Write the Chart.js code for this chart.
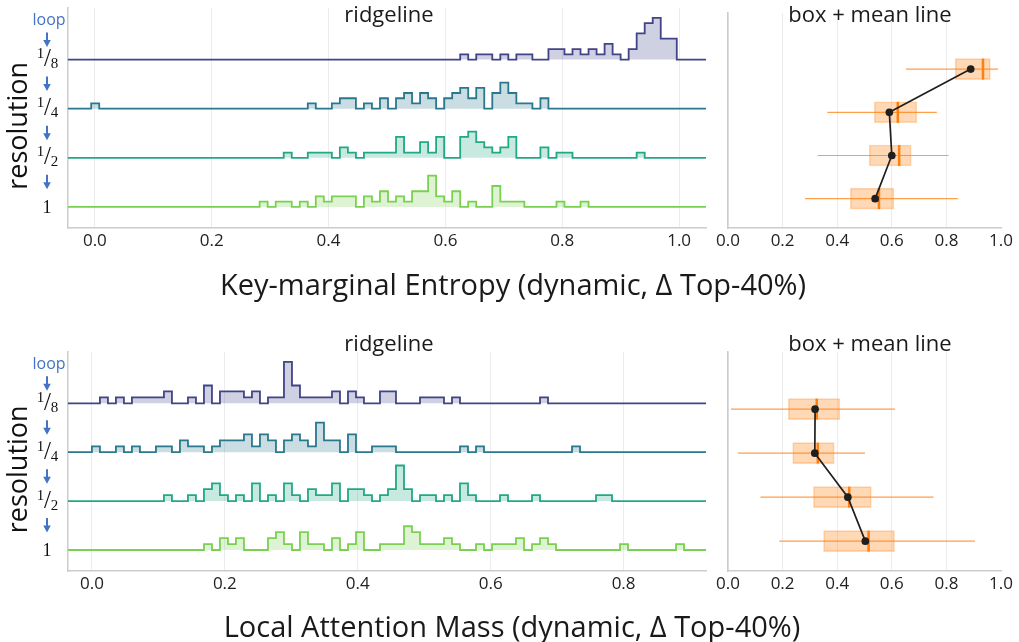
<!DOCTYPE html>
<html>
<head>
<meta charset="utf-8">
<title>Ridgeline + box, two metrics</title>
<script src="https://cdn.jsdelivr.net/npm/chart.js@4.4.1/dist/chart.umd.min.js"></script>
<style>
  html, body { margin: 0; padding: 0; background: #fff; }
  #fig { position: relative; width: 1019px; height: 642px; overflow: hidden;
         font-family: "Open Sans", sans-serif; color: #1a1a1a; }
  .panel { position: absolute; }
  .label { position: absolute; transform: translate(-50%, -50%); white-space: nowrap; line-height: 1; }
  .title { font-size: 22px; }
  .xtitle { font-size: 29px; }
</style>
</head>
<body>
<div id="fig">
  <div class="panel" style="left:0;top:0;width:712px;height:300px"><canvas id="ridgeTop"></canvas></div>
  <div class="panel" style="left:712px;top:0;width:307px;height:300px"><canvas id="boxTop"></canvas></div>
  <div class="panel" style="left:0;top:330px;width:712px;height:312px"><canvas id="ridgeBottom"></canvas></div>
  <div class="panel" style="left:712px;top:330px;width:307px;height:312px"><canvas id="boxBottom"></canvas></div>

  <div class="label title" style="left:389px;top:13px">ridgeline</div>
  <div class="label title" style="left:870px;top:13px">box + mean line</div>
  <div class="label xtitle" style="left:513px;top:283px">Key-marginal Entropy (dynamic, Δ Top-40%)</div>

  <div class="label title" style="left:389px;top:342px">ridgeline</div>
  <div class="label title" style="left:870px;top:342px">box + mean line</div>
  <div class="label xtitle" style="left:512px;top:625px">Local Attention Mass (dynamic, Δ Top-40%)</div>
</div>

<script>
// rows, top to bottom
const rowLabels = ['1/8', '1/4', '1/2', '1'];
const rowColors = ['#414487', '#2a788e', '#22a884', '#7ad151'];
const loopColor = '#4472c4';

// ---- Key-marginal entropy: histogram counts (73 bins) ----
const entropyBinStart = -0.0063;
const entropyBinWidth = 0.01373;
const entropyCounts8 = [
  0,0,0,0,0,0,0,0,0,0, 0,0,0,0,0,0,0,0,0,0, 0,0,0,0,0,0,0,0,0,0, 0,0,0,0,0,0,0,0,0,0,
  0,0,0,0,0,0,1,0,1,1, 0,1,0,1,1,0,0,2,2,1, 2,1,2,1,3,1,0,2,5,7, 8,4,4];
const entropyCounts4 = [
  1,0,0,0,0,0,0,0,0,0, 0,0,0,0,0,0,0,0,0,0, 0,0,0,0,0,0,0,1,0,0, 1,2,2,0,1,0,2,0,2,3,
  1,3,2,0,2,3,4,2,4,0, 3,5,3,1,1,0,2,0,0,0, 0,0,0,0,0,0,0,0,0,0, 0,0,0];
const entropyCounts2 = [
  0,0,0,0,0,0,0,0,0,0, 0,0,0,0,0,0,0,0,0,0, 0,0,0,0,1,0,0,1,1,1, 0,2,1,0,1,1,1,1,4,1,
  1,3,1,4,0,0,4,5,3,2, 1,2,4,0,0,0,2,0,1,1, 0,0,0,0,0,0,0,0,1,0, 0,0,0];
const entropyCounts1 = [
  0,0,0,0,0,0,0,0,0,0, 0,0,0,0,0,0,0,0,0,0, 0,1,0,1,1,0,1,0,2,1, 2,2,2,0,2,1,3,1,2,1,
  3,3,6,2,1,3,0,1,0,0, 4,1,1,1,0,0,0,0,1,0, 0,1,0,0,0,0,0,0,0,0, 0,0,0];
const entropyRange = [-0.046, 1.046];
const entropyTicks = [0.0, 0.2, 0.4, 0.6, 0.8, 1.0];

// box stats per row
const entropyWhiskerLo = [0.652, 0.364, 0.328, 0.282];
const entropyWhiskerHi = [0.989, 0.765, 0.808, 0.842];
const entropyQ1 = [0.832, 0.536, 0.517, 0.448];
const entropyQ3 = [0.961, 0.692, 0.671, 0.608];
const entropyMedian = [0.934, 0.622, 0.627, 0.553];
const entropyMean = [0.889, 0.591, 0.600, 0.539];

// ---- Local attention mass: histogram counts (74 bins) ----
const massBinStart = 0.0;
const massBinWidth = 0.01204;
const massCounts8 = [
  0,1,0,1,0,1,1,1,1,2, 0,0,1,0,3,0,2,2,2,1, 2,0,1,1,7,3,1,1,1,1, 2,0,2,1,0,0,2,2,0,0,
  0,1,1,1,0,1,0,0,0,0, 0,0,0,0,0,0,1,0,0,0, 0,0,0,0,0,0,0,0,0,0, 0,0,0,0];
const massCounts4 = [
  1,0,0,1,0,1,0,0,1,1, 0,2,1,1,0,1,2,2,2,3, 1,3,2,0,2,3,2,1,5,2, 2,0,3,0,0,1,1,1,0,0,
  0,0,0,0,0,0,1,0,1,0, 0,0,0,0,0,0,0,0,0,0, 1,0,0,0,0,0,0,0,0,0, 0,0,0,0];
const massCounts2 = [
  0,0,0,0,0,0,0,0,0,1, 0,0,1,0,2,3,1,0,1,0, 3,0,1,0,3,1,0,2,1,1, 3,0,2,2,1,0,1,2,6,2,
  0,1,1,0,1,0,3,1,0,0, 0,1,0,0,0,1,0,0,0,0, 0,0,0,1,1,0,0,0,0,0, 0,0,0,0];
const massCounts1 = [
  0,0,0,0,0,0,0,0,0,0, 0,0,0,0,1,0,2,1,2,0, 0,0,2,3,1,0,3,1,1,0, 2,0,1,3,0,0,1,1,1,4,
  3,1,1,1,2,1,0,0,1,0, 1,1,1,2,0,1,2,1,0,0, 0,0,0,0,0,0,1,0,0,0, 0,0,0,1];
const massRange = [-0.036, 0.924];
const massTicks = [0.0, 0.2, 0.4, 0.6, 0.8];

const massWhiskerLo = [0.011, 0.037, 0.119, 0.188];
const massWhiskerHi = [0.612, 0.502, 0.753, 0.905];
const massQ1 = [0.221, 0.237, 0.313, 0.350];
const massQ3 = [0.410, 0.389, 0.525, 0.610];
const massMedian = [0.325, 0.329, 0.444, 0.515];
const massMean = [0.319, 0.318, 0.439, 0.503];

const boxTicks = [0.0, 0.2, 0.4, 0.6, 0.8, 1.0];

// shared layout
const rowRange = [-1.05, 3.43];   // y in "row" units, reversed
const ridgePeak = 0.85;           // tallest bin height in row units
const tickFont = { family: 'Open Sans', size: 17 };
const gridColor = '#ececec';
const spineColor = '#cccccc';

function hexToRgba(hex, a) {
    const n = parseInt(hex.slice(1), 16);
    return 'rgba(' + (n >> 16) + ',' + ((n >> 8) & 255) + ',' + (n & 255) + ',' + a + ')';
}

// stepped outline of one histogram, sitting on its row baseline
function ridgeDataset(counts, row, binStart, binWidth, range, scale) {
    const pts = [{ x: range[0], y: row }];
    counts.forEach((c, k) => pts.push({ x: binStart + k * binWidth, y: row - c * scale }));
    pts.push({ x: binStart + counts.length * binWidth, y: row });
    pts.push({ x: range[1], y: row });
    return {
        type: 'line',
        data: pts,
        stepped: true,
        borderColor: rowColors[row],
        borderWidth: 1.8,
        backgroundColor: hexToRgba(rowColors[row], 0.25),
        fill: { value: row },
        pointRadius: 0
    };
}

function drawArrow(ctx, cx, cy) {
    ctx.strokeStyle = loopColor;
    ctx.fillStyle = loopColor;
    ctx.lineWidth = 2;
    ctx.beginPath();
    ctx.moveTo(cx, cy - 7.5);
    ctx.lineTo(cx, cy + 1);
    ctx.stroke();
    ctx.beginPath();
    ctx.moveTo(cx - 3.8, cy);
    ctx.lineTo(cx + 3.8, cy);
    ctx.lineTo(cx, cy + 7);
    ctx.closePath();
    ctx.fill();
}

// "loop", arrows, fraction labels and "resolution" left of the ridgelines
const rowLabelPlugin = {
    id: 'rowLabels',
    afterDraw(chart) {
        const ctx = chart.ctx;
        const y = chart.scales.y;
        ctx.save();
        ctx.textAlign = 'center';

        ctx.fillStyle = loopColor;
        ctx.font = '16px "Open Sans"';
        ctx.textBaseline = 'middle';
        ctx.fillText('loop', 49, y.getPixelForValue(-0.8));
        [-0.4, 0.5, 1.5, 2.5].forEach(v => drawArrow(ctx, 47, y.getPixelForValue(v)));

        ctx.fillStyle = '#111';
        rowLabels.forEach((lab, i) => {
            const py = y.getPixelForValue(i);
            const parts = lab.split('/');
            ctx.textBaseline = 'alphabetic';
            if (parts.length === 1) {
                ctx.font = '18px "Liberation Serif"';
                ctx.fillText(parts[0], 47, py + 6);
                return;
            }
            ctx.font = '15px "Liberation Serif"';
            ctx.fillText(parts[0], 40.5, py - 1.5);
            ctx.fillText(parts[1], 54.5, py + 8.5);
            ctx.font = '25px "Liberation Serif"';
            ctx.fillText('/', 47.5, py + 6.5);
        });

        ctx.translate(19, y.getPixelForValue(1.35));
        ctx.rotate(-Math.PI / 2);
        ctx.font = '27px "Open Sans"';
        ctx.textBaseline = 'middle';
        ctx.fillText('resolution', 0, 0);
        ctx.restore();
    }
};

function xScale(range, ticks, height, hideLast) {
    return {
        type: 'linear',
        min: range[0],
        max: range[1],
        afterBuildTicks: s => { s.ticks = ticks.map(v => ({ value: v })); },
        afterFit: s => { s.height = height; },
        ticks: { font: tickFont, color: '#222', padding: 3, maxRotation: 0,
                 callback: v => v.toFixed(1) },
        grid: { drawTicks: false, lineWidth: 1,
                color: c => (hideLast && c.tick && c.tick.value === 1) ? 'rgba(0,0,0,0)' : gridColor },
        border: { color: spineColor, width: 1.5 }
    };
}

function yScale(width) {
    return {
        type: 'linear',
        reverse: true,
        min: rowRange[0],
        max: rowRange[1],
        afterFit: s => { s.width = width; },
        ticks: { display: false },
        grid: { display: false },
        border: { color: spineColor, width: 1.5 }
    };
}

function ridgeChart(id, countRows, binStart, binWidth, range, ticks, padTop, xHeight) {
    const maxCount = Math.max(...countRows.map(r => Math.max(...r)));
    const scale = ridgePeak / maxCount;
    return new Chart(document.getElementById(id), {
        type: 'line',
        data: { datasets: countRows.map((c, i) => ridgeDataset(c, i, binStart, binWidth, range, scale)) },
        options: {
            responsive: true,
            maintainAspectRatio: false,
            animation: false,
            events: [],
            layout: { padding: { left: 0, right: 6, top: padTop, bottom: 0 } },
            plugins: { legend: { display: false }, tooltip: { enabled: false } },
            scales: { x: xScale(range, ticks, xHeight, false), y: yScale(68) }
        },
        plugins: [rowLabelPlugin]
    });
}

function boxChart(id, lo, hi, q1, q3, median, mean, padTop, xHeight) {
    const whiskers = rowLabels.map((_, i) => ({
        type: 'line',
        data: [{ x: lo[i], y: i }, { x: hi[i], y: i }],
        borderColor: 'rgba(255,127,14,0.75)',
        borderWidth: 1.2,
        pointRadius: 0,
        order: 3
    }));
    return new Chart(document.getElementById(id), {
        type: 'line',
        data: {
            datasets: [
                ...whiskers,
                {
                    type: 'bar',
                    indexAxis: 'y',
                    data: rowLabels.map((_, i) => ({ x: [q1[i], q3[i]], y: i })),
                    backgroundColor: 'rgba(255,127,14,0.3)',
                    borderColor: 'rgba(255,127,14,0.3)',
                    borderWidth: 1,
                    borderSkipped: false,
                    barThickness: 21,
                    order: 2
                },
                {
                    type: 'line',
                    data: median.map((m, i) => ({ x: m, y: i })),
                    showLine: false,
                    pointStyle: 'line',
                    rotation: 90,
                    pointRadius: 10.5,
                    borderColor: '#ff7f0e',
                    borderWidth: 2.5,
                    order: 1
                },
                {
                    type: 'line',
                    data: mean.map((m, i) => ({ x: m, y: i })),
                    borderColor: '#1f1f1f',
                    borderWidth: 1.7,
                    pointRadius: 3,
                    pointBackgroundColor: '#1f1f1f',
                    pointBorderColor: '#1f1f1f',
                    order: 0
                }
            ]
        },
        options: {
            responsive: true,
            maintainAspectRatio: false,
            animation: false,
            events: [],
            layout: { padding: { left: 0, right: 18, top: padTop, bottom: 0 } },
            plugins: { legend: { display: false }, tooltip: { enabled: false } },
            scales: { x: xScale([0, 1], boxTicks, xHeight, true), y: yScale(16) }
        }
    });
}

ridgeChart('ridgeTop', [entropyCounts8, entropyCounts4, entropyCounts2, entropyCounts1],
    entropyBinStart, entropyBinWidth, entropyRange, entropyTicks, 8, 72);
boxChart('boxTop', entropyWhiskerLo, entropyWhiskerHi, entropyQ1, entropyQ3,
    entropyMedian, entropyMean, 8, 72);

ridgeChart('ridgeBottom', [massCounts8, massCounts4, massCounts2, massCounts1],
    massBinStart, massBinWidth, massRange, massTicks, 22, 71);
boxChart('boxBottom', massWhiskerLo, massWhiskerHi, massQ1, massQ3,
    massMedian, massMean, 22, 71);
</script>
</body>
</html>
